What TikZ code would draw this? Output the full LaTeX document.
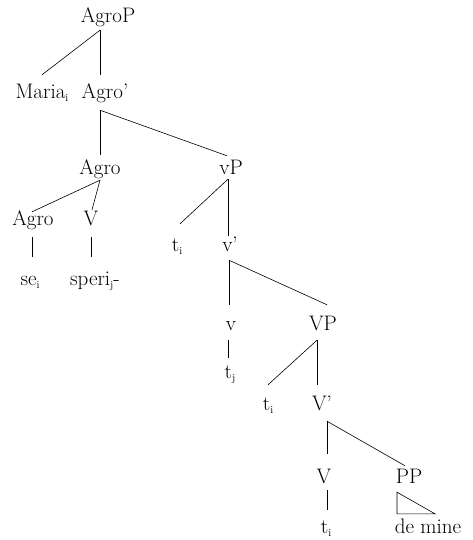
\documentclass[tikz,border=0pt]{standalone}
\newcommand{\lsub}[1]{\raisebox{-3pt}{\fontsize{10.5}{10.5}\selectfont #1}}
\begin{document}
\begin{tikzpicture}[x=1pt,y=-1pt,
  lab/.style={anchor=base,inner xsep=0pt,inner ysep=3pt,text height=14pt,text depth=4pt,font=\fontsize{21}{25}\selectfont},
  br/.style={line width=0.6pt,black}]
\useasboundingbox (0,0) rectangle (473,540);
\node[lab] (agrop) at (108,23) {AgroP};
\node[lab] (maria) at (42,99) {Maria\lsub{i}};
\node[lab] (agrob) at (105,99) {Agro’};
\node[lab] (agro) at (100,175) {Agro};
\node[lab] (vp) at (231,175) {vP};
\node[lab] (agrol) at (33,225) {Agro};
\node[lab] (vv) at (91,225) {V};
\node[lab] (se) at (30,285) {se\lsub{i}};
\node[lab] (speri) at (95,285) {speri\lsub{j}-};
\node[lab] (tia) at (177,251) {t\lsub{i}};
\node[lab] (vbar) at (230,251) {v’};
\node[lab] (vsmall) at (231,330) {v};
\node[lab] (VP) at (323,330) {VP};
\node[lab] (tj) at (230,378) {t\lsub{j}};
\node[lab] (tib) at (268,410) {t\lsub{i}};
\node[lab] (Vbar) at (322,410) {V’};
\node[lab] (Vtwo) at (324,483) {V};
\node[lab] (PP) at (409,483) {PP};
\node[lab] (tic) at (326,533) {t\lsub{i}};
\node[lab] (demine) at (428,533) {de mine};
\draw[br] ([xshift=-8pt]agrop.south) -- ([yshift=7pt]maria.north);
\draw[br] ([xshift=-8pt]agrop.south) -- ([xshift=-5pt,yshift=7pt]agrob.north);
\draw[br] ([xshift=-5pt,yshift=-4pt]agrob.south) -- ([yshift=3pt]agro.north);
\draw[br] ([xshift=-5pt,yshift=-4pt]agrob.south) -- ([xshift=-4pt,yshift=2pt]vp.north);
\draw[br] ([yshift=2pt]agro.south) -- ([xshift=-1pt,yshift=-4pt]agrol.north);
\draw[br] ([yshift=2pt]agro.south) -- ([xshift=1pt,yshift=-2pt]vv.north);
\draw[br] ([xshift=-1pt,yshift=-5pt]agrol.south) -- ([xshift=2pt,yshift=11pt]se.north);
\draw[br] ([yshift=-5pt]vv.south) -- ([xshift=-4pt,yshift=11pt]speri.north);
\draw[br] ([xshift=-3pt,yshift=3pt]vp.south) -- ([xshift=3pt,yshift=10pt]tia.north);
\draw[br] ([xshift=-3pt,yshift=3pt]vp.south) -- ([xshift=-2pt,yshift=-2pt]vbar.north);
\draw[br] ([xshift=-1pt,yshift=-2pt]vbar.south) -- ([xshift=-2pt,yshift=8pt]vsmall.north);
\draw[br] ([xshift=-1pt,yshift=-2pt]vbar.south) -- ([xshift=4pt,yshift=8pt]VP.north);
\draw[br] ([xshift=-3pt,yshift=-3pt]vsmall.south) -- ([xshift=-2pt,yshift=3pt]tj.north);
\draw[br] ([xshift=-6pt,yshift=-3pt]VP.south) -- ([yshift=8pt]tib.north);
\draw[br] ([xshift=-6pt,yshift=-3pt]VP.south) -- ([xshift=-5pt,yshift=8pt]Vbar.north);
\draw[br] ([xshift=5pt,yshift=-4pt]Vbar.south) -- ([xshift=3pt,yshift=12pt]Vtwo.north);
\draw[br] ([xshift=5pt,yshift=-4pt]Vbar.south) -- ([xshift=-4pt]PP.north);
\draw[br] ([xshift=3pt]Vtwo.south) -- ([xshift=1pt,yshift=6pt]tic.north);
\draw[br] ([xshift=-12pt,yshift=-2pt]PP.south) -- ([xshift=-31pt,yshift=2pt]demine.north) -- ([xshift=7pt,yshift=2pt]demine.north) -- cycle;
\end{tikzpicture}
\end{document}
